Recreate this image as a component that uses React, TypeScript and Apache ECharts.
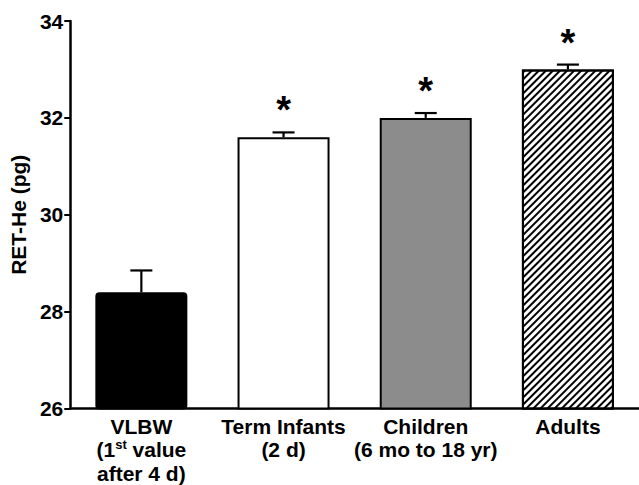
import React, { useEffect, useRef } from "react";
import * as echarts from "echarts";

const categories = ["VLBW", "Term Infants", "Children", "Adults"];
const categoryLabels = [
  "VLBW\n(1{sup|st}{b| value}\nafter 4 d)",
  "Term Infants\n(2 d)",
  "Children\n(6 mo to 18 yr)",
  "Adults",
];
const means = [28.4, 31.6, 32.0, 33.0];
const sems = [0.45, 0.1, 0.1, 0.1];
const significant = [false, true, true, true];
const yTicks = [26, 28, 30, 32, 34];

const FONT = "'Liberation Sans', Arial, Helvetica, sans-serif";

export default function App() {
  const ref = useRef<HTMLDivElement>(null);
  useEffect(() => {
    if (!ref.current) return;
    const chart = echarts.init(ref.current, undefined, { renderer: "svg" });
    const barStyles = [
      { color: "#000000", borderColor: "#000", borderWidth: 2, borderRadius: 3 },
      { color: "#ffffff", borderColor: "#000", borderWidth: 2 },
      { color: "#8c8c8c", borderColor: "#000", borderWidth: 2 },
      {
        color: "#ffffff",
        borderColor: "#000",
        borderWidth: 2,
        decal: {
          symbol: "rect",
          symbolSize: 1,
          color: "#000000",
          backgroundColor: "#ffffff",
          dashArrayX: [1, 0],
          dashArrayY: [1.6, 2.6],
          rotation: -Math.PI / 4,
        },
      },
    ];
    chart.setOption({
      animation: false,
      grid: { left: 67, top: 21, bottom: 75, width: 584 },
      xAxis: {
        type: "category",
        data: categories,
        axisLine: { lineStyle: { color: "#000", width: 2.5 } },
        axisTick: { alignWithLabel: true, length: 6, lineStyle: { color: "#000", width: 2 } },
        axisLabel: {
          interval: 0,
          margin: 6,
          color: "#000",
          fontFamily: FONT,
          fontWeight: "bold",
          fontSize: 21,
          lineHeight: 23.5,
          formatter: (_v: string, i: number) => categoryLabels[i],
          rich: {
            b: { fontFamily: FONT, fontWeight: "bold", fontSize: 21, color: "#000", lineHeight: 23.5 },
            sup: {
              fontFamily: FONT,
              fontWeight: "bold",
              fontSize: 13,
              color: "#000",
              verticalAlign: "top",
              lineHeight: 23.5,
              padding: [0, 0, 10, 0],
            },
          },
        },
      },
      yAxis: {
        type: "value",
        min: yTicks[0],
        max: yTicks[yTicks.length - 1],
        interval: 2,
        name: "RET-He (pg)",
        nameLocation: "middle",
        nameGap: 35,
        nameTextStyle: { color: "#000", fontFamily: FONT, fontWeight: "bold", fontSize: 21 },
        splitLine: { show: false },
        axisLine: { show: true, lineStyle: { color: "#000", width: 2.5 } },
        axisTick: { show: true, length: 6, lineStyle: { color: "#000", width: 2 } },
        axisLabel: {
          color: "#000",
          fontFamily: FONT,
          fontWeight: "bold",
          fontSize: 21,
          margin: 7,
        },
      },
      series: [
        {
          type: "bar",
          barWidth: 92,
          data: means.map((v, i) => ({ value: v, itemStyle: barStyles[i] })),
          z: 2,
        },
        {
          type: "custom",
          z: 5,
          data: means.map((m, i) => [i, m, m + sems[i], significant[i] ? 1 : 0]),
          renderItem: (params: any, api: any) => {
            const base = api.coord([api.value(0), api.value(1)]);
            const top = api.coord([api.value(0), api.value(2)]);
            const half = 11;
            const style = { stroke: "#000", lineWidth: 2.2 };
            const children: any[] = [
              { type: "line", shape: { x1: base[0], y1: base[1], x2: top[0], y2: top[1] }, style },
              { type: "line", shape: { x1: top[0] - half, y1: top[1], x2: top[0] + half, y2: top[1] }, style },
            ];
            if (api.value(3)) {
              children.push({
                type: "text",
                x: top[0],
                y: top[1] - 22,
                style: {
                  text: "*",
                  fill: "#000",
                  font: `bold 38px ${FONT}`,
                  align: "center",
                  verticalAlign: "middle",
                },
              });
            }
            return { type: "group", children };
          },
        },
      ],
    });
    return () => chart.dispose();
  }, []);
  return (
    <div
      ref={ref}
      style={{ position: "fixed", left: 0, top: 0, width: 639, height: 485, background: "#fff" }}
    />
  );
}
